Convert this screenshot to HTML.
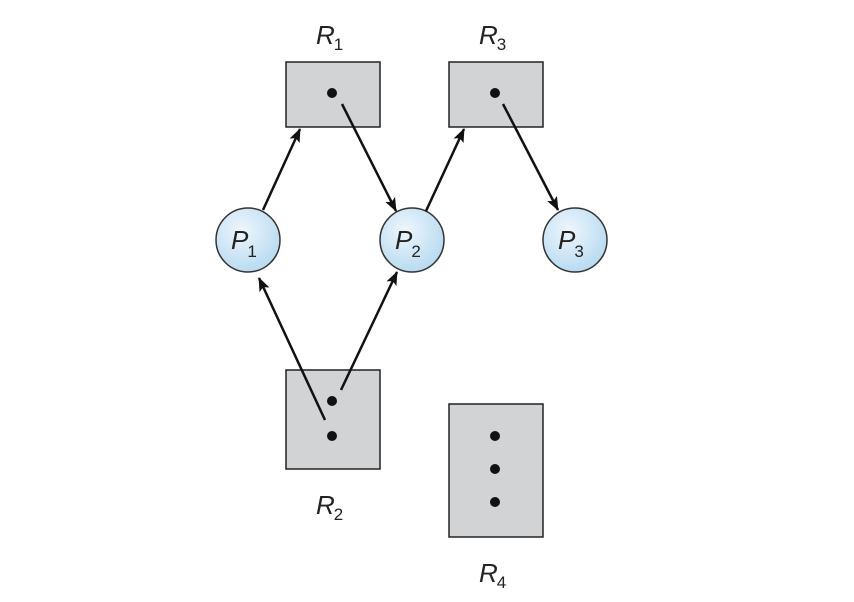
<!DOCTYPE html>
<html><head><style>body{margin:0;background:#fff}svg{display:block}</style></head><body>
<svg width="854" height="602" viewBox="0 0 854 602" xmlns="http://www.w3.org/2000/svg" font-family="Liberation Sans, sans-serif">
<defs>
<radialGradient id="g" cx="0.4" cy="0.35" r="0.7"><stop offset="0" stop-color="#eef6fc"/><stop offset="1" stop-color="#b5d9f0"/></radialGradient>
<marker id="a" markerWidth="14" markerHeight="11" refX="13" refY="5.5" orient="auto" markerUnits="userSpaceOnUse" viewBox="0 0 14 11"><path d="M0,0 L14,5.5 L0,11 L3,5.5 z" fill="#111"/></marker>
</defs>
<g fill="#d2d3d5" stroke="#222" stroke-width="1.5">
<rect x="286" y="62" width="94" height="65"/>
<rect x="449" y="62" width="94" height="65"/>
<rect x="286" y="370" width="94" height="99"/>
<rect x="449" y="404" width="94" height="133"/>
</g>
<g fill="#111">
<circle cx="332" cy="93" r="5"/><circle cx="495" cy="93" r="5"/>
<circle cx="332" cy="401" r="5"/><circle cx="332" cy="436" r="5"/>
<circle cx="495" cy="436" r="5"/><circle cx="495" cy="469" r="5"/><circle cx="495" cy="502" r="5"/>
</g>
<g fill="url(#g)" stroke="#333" stroke-width="1.5">
<circle cx="248" cy="240" r="32"/><circle cx="412" cy="240" r="32"/><circle cx="575" cy="240" r="32"/>
</g>
<g stroke="#111" stroke-width="2.5" marker-end="url(#a)">
<line x1="263" y1="210" x2="300" y2="129"/>
<line x1="342" y1="104" x2="396" y2="211"/>
<line x1="426" y1="211" x2="464" y2="129"/>
<line x1="503" y1="104" x2="558" y2="210"/>
<line x1="325" y1="420" x2="259" y2="278"/>
<line x1="341" y1="390" x2="397" y2="272"/>
</g>
<g font-style="italic" font-size="26" fill="#222">
<text x="316" y="44">R<tspan font-size="17" font-style="normal" dx="-1" dy="6">1</tspan></text>
<text x="479" y="44">R<tspan font-size="17" font-style="normal" dx="-1" dy="6">3</tspan></text>
<text x="316" y="514">R<tspan font-size="17" font-style="normal" dx="-1" dy="6">2</tspan></text>
<text x="479" y="582">R<tspan font-size="17" font-style="normal" dx="-1" dy="6">4</tspan></text>
<text x="231" y="249">P<tspan font-size="17" font-style="normal" dx="-1" dy="8">1</tspan></text>
<text x="395" y="249">P<tspan font-size="17" font-style="normal" dx="-1" dy="8">2</tspan></text>
<text x="558" y="249">P<tspan font-size="17" font-style="normal" dx="-1" dy="8">3</tspan></text>
</g>
</svg>
</body></html>
